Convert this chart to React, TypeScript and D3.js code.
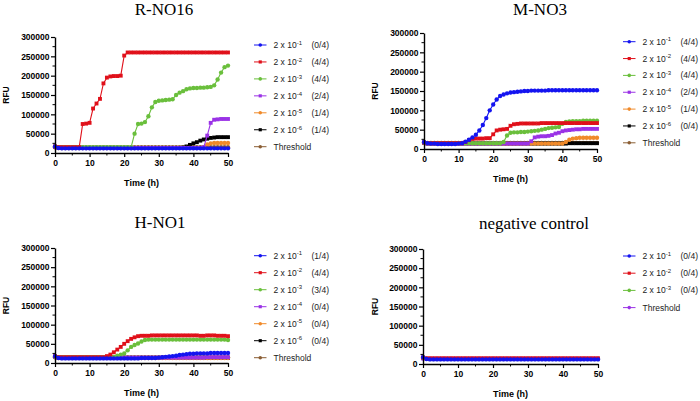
import React, { useRef, useEffect } from "react";
import * as d3 from "d3";

// reading times (h)
const hours = [
  0, 1, 2, 3, 4, 5, 6, 7, 8, 9,
  10, 11, 12, 13, 14, 15, 16, 17, 18, 19,
  20, 21, 22, 23, 24, 25, 26, 27, 28, 29,
  30, 31, 32, 33, 34, 35, 36, 37, 38, 39,
  40, 41, 42, 43, 44, 45, 46, 47, 48, 49,
  50,
];

const yTicks = [0, 50000, 100000, 150000, 200000, 250000, 300000];
const yMinorTicks = [25000, 75000, 125000, 175000, 225000, 275000];
const xTicks = [0, 10, 20, 30, 40, 50];
const xMinorTicks = [5, 15, 25, 35, 45];

const titles = ["R-NO16", "M-NO3", "H-NO1", "negative control"];
const dilutionExp = ["-1", "-2", "-3", "-4", "-5", "-6"];

// counts shown in each legend
const rCounts = ["(0/4)", "(4/4)", "(4/4)", "(2/4)", "(1/4)", "(1/4)"];
const mCounts = ["(4/4)", "(4/4)", "(4/4)", "(2/4)", "(1/4)", "(0/4)"];
const hCounts = ["(1/4)", "(4/4)", "(3/4)", "(0/4)", "(0/4)", "(0/4)"];
const nCounts = ["(0/4)", "(0/4)", "(0/4)"];

// RFU values in thousands, one per hour
const rBlue = [
  17, 13, 12, 12, 12, 12, 12, 12, 12, 12,
  12, 12, 12, 12, 12, 12, 12, 12, 12, 12,
  12, 12, 12, 12, 12, 12, 12, 12, 12, 12,
  12, 12, 12, 12, 12, 12, 12, 12, 12, 12,
  12, 12, 12, 12, 12, 12, 12, 12, 12, 12,
  12,
];
const rRed = [
  17, 15, 15, 15, 15, 15, 15, 15, 75, 76,
  78, 115, 128, 140, 180, 195, 198, 199, 199, 200,
  252, 260, 260, 260, 260, 260, 260, 260, 260, 260,
  260, 260, 260, 260, 260, 260, 260, 260, 260, 260,
  260, 260, 260, 260, 260, 260, 260, 260, 260, 260,
  260,
];
const rGreen = [
  17, 15, 15, 15, 15, 15, 15, 15, 15, 15,
  15, 15, 15, 15, 15, 15, 15, 15, 15, 15,
  15, 15, 15, 50, 75, 76, 80, 95, 118, 132,
  135, 136, 137, 138, 139, 150, 156, 160, 165, 167,
  168, 168, 169, 169, 170, 171, 175, 190, 208, 222,
  226,
];
const rPurple = [
  16, 13, 13, 13, 13, 13, 13, 13, 13, 13,
  13, 13, 13, 13, 13, 13, 13, 13, 13, 13,
  13, 13, 13, 13, 13, 13, 13, 13, 13, 13,
  13, 13, 13, 13, 13, 13, 13, 13, 13, 13,
  13, 13, 13, 15, 45, 78, 86, 87, 88, 88,
  88,
];
const rOrange = [
  16, 13, 13, 13, 13, 13, 13, 13, 13, 13,
  13, 13, 13, 13, 13, 13, 13, 13, 13, 13,
  13, 13, 13, 13, 13, 13, 13, 13, 13, 13,
  13, 13, 13, 13, 13, 13, 13, 13, 13, 13,
  13, 13, 13, 14, 22, 25, 26, 26, 26, 26,
  26,
];
const rBlack = [
  16, 13, 13, 13, 13, 13, 13, 13, 13, 13,
  13, 13, 13, 13, 13, 13, 13, 13, 13, 13,
  13, 13, 13, 13, 13, 13, 13, 13, 13, 13,
  13, 13, 13, 13, 13, 13, 13, 14, 17, 21,
  25, 28, 32, 35, 37, 39, 40, 41, 41, 41,
  41,
];
const rThreshold = 15;

const mBlue = [
  18, 15, 14, 14, 13, 13, 13, 13, 13, 13,
  14, 15, 19, 24, 30, 37, 48, 62, 80, 100,
  115, 128, 137, 141, 144, 146, 147, 148, 149, 150,
  150, 151, 151, 151, 151, 151, 152, 152, 152, 152,
  152, 152, 152, 152, 152, 152, 152, 152, 152, 152,
  152,
];
const mRed = [
  17, 15, 15, 15, 15, 15, 15, 15, 15, 15,
  15, 15, 18, 23, 26, 27, 27, 27, 28, 28,
  38, 48, 50, 51, 52, 60, 64, 65, 66, 66,
  66, 66, 66, 66, 67, 67, 67, 67, 67, 67,
  67, 67, 67, 67, 67, 67, 67, 67, 67, 67,
  67,
];
const mGreen = [
  17, 15, 15, 15, 15, 15, 15, 15, 15, 15,
  15, 15, 15, 15, 15, 15, 15, 15, 15, 15,
  15, 15, 15, 18, 35, 42, 43, 43, 44, 44,
  45, 46, 47, 48, 50, 52, 54, 55, 56, 57,
  65, 70, 71, 72, 72, 72, 73, 73, 73, 73,
  73,
];
const mPurple = [
  16, 14, 14, 14, 14, 14, 14, 14, 14, 14,
  14, 14, 14, 14, 14, 14, 14, 14, 14, 14,
  14, 14, 14, 14, 14, 14, 14, 14, 14, 14,
  14, 20, 30, 32, 33, 33, 34, 36, 40, 42,
  46, 48, 49, 50, 51, 51, 52, 52, 52, 52,
  52,
];
const mOrange = [
  16, 14, 14, 14, 14, 14, 14, 14, 14, 14,
  14, 14, 14, 14, 14, 14, 14, 14, 14, 14,
  14, 14, 14, 14, 14, 14, 14, 14, 14, 14,
  14, 14, 14, 14, 14, 14, 14, 14, 14, 14,
  14, 18, 24, 27, 28, 29, 29, 29, 29, 29,
  29,
];
const mBlack = [
  16, 14, 14, 14, 14, 14, 14, 14, 14, 14,
  14, 14, 14, 14, 14, 14, 14, 14, 14, 14,
  14, 14, 14, 14, 14, 14, 14, 14, 14, 14,
  14, 14, 14, 14, 14, 14, 14, 14, 14, 14,
  14, 14, 15, 15, 15, 15, 15, 15, 15, 15,
  15,
];
const mThreshold = 16;

const hBlue = [
  18, 13, 12, 12, 12, 12, 12, 12, 12, 12,
  12, 12, 12, 12, 12, 12, 12, 12, 12, 12,
  12, 12, 12, 12, 12, 13, 13, 13, 13, 13,
  14, 15, 16, 17, 18, 19, 21, 22, 23, 24,
  24, 25, 25, 25, 25, 26, 26, 26, 26, 26,
  26,
];
const hRed = [
  18, 15, 15, 15, 15, 15, 15, 15, 15, 15,
  15, 15, 15, 15, 15, 18, 22, 28, 35, 42,
  50, 57, 63, 67, 70, 71, 71, 71, 72, 72,
  72, 72, 72, 72, 72, 72, 72, 72, 72, 72,
  72, 72, 71, 71, 72, 72, 72, 71, 71, 71,
  70,
];
const hGreen = [
  17, 15, 15, 15, 15, 15, 15, 15, 15, 15,
  15, 15, 15, 15, 15, 15, 15, 16, 19, 22,
  25, 33, 42, 47, 51, 56, 60, 61, 61, 61,
  61, 61, 61, 61, 61, 61, 61, 61, 61, 61,
  61, 61, 61, 61, 61, 61, 61, 61, 61, 61,
  60,
];
const hPurple = [
  16, 14, 14, 14, 14, 14, 14, 14, 14, 14,
  14, 14, 14, 14, 14, 14, 14, 14, 14, 14,
  14, 14, 14, 14, 14, 14, 14, 14, 14, 14,
  14, 14, 14, 14, 14, 14, 14, 14, 14, 14,
  14, 14, 14, 14, 15, 15, 15, 15, 15, 15,
  15,
];
const hOrange = [
  16, 13, 13, 13, 13, 13, 13, 13, 13, 13,
  13, 13, 13, 13, 13, 13, 13, 13, 13, 13,
  13, 13, 13, 13, 13, 13, 13, 13, 13, 13,
  13, 13, 13, 13, 13, 13, 13, 13, 13, 13,
  13, 13, 13, 13, 13, 13, 13, 13, 13, 13,
  13,
];
const hBlack = [
  16, 13, 13, 13, 13, 13, 13, 13, 13, 13,
  13, 13, 13, 13, 13, 13, 13, 13, 13, 13,
  13, 13, 13, 13, 13, 13, 13, 13, 13, 13,
  13, 13, 13, 13, 13, 13, 13, 13, 13, 13,
  13, 13, 13, 13, 13, 13, 13, 13, 13, 13,
  13,
];
const hThreshold = 15;

const nBlue = [
  18, 13, 12, 12, 12, 12, 12, 12, 12, 12,
  12, 12, 12, 12, 12, 12, 12, 12, 12, 12,
  12, 12, 12, 12, 12, 12, 12, 12, 12, 12,
  12, 12, 12, 12, 12, 12, 12, 12, 12, 12,
  12, 12, 12, 12, 12, 12, 12, 12, 12, 12,
  12,
];
const nRed = [
  17, 15, 15, 15, 15, 15, 15, 15, 15, 15,
  15, 15, 15, 15, 15, 15, 15, 15, 15, 15,
  15, 15, 15, 15, 15, 15, 15, 15, 15, 15,
  15, 15, 15, 15, 15, 15, 15, 15, 15, 15,
  15, 15, 15, 15, 15, 15, 15, 15, 15, 15,
  15,
];
const nGreen = [
  17, 14, 13, 13, 13, 13, 13, 13, 13, 13,
  13, 13, 13, 13, 13, 13, 13, 13, 13, 13,
  13, 13, 13, 13, 13, 13, 13, 13, 13, 13,
  13, 13, 13, 13, 13, 13, 13, 13, 13, 13,
  13, 13, 13, 13, 13, 13, 13, 13, 13, 13,
  13,
];
const nThreshold = 14;

const colors = ["#1414f0", "#e0101a", "#6abf3c", "#9a32e6", "#f08a2a", "#000000"];
const shapes = [d3.symbolCircle, d3.symbolSquare, d3.symbolCircle, d3.symbolSquare, d3.symbolCircle, d3.symbolSquare];

const panelData = [
  { values: [rBlue, rRed, rGreen, rPurple, rOrange, rBlack], counts: rCounts, threshold: rThreshold, thColor: "#8b5e34" },
  { values: [mBlue, mRed, mGreen, mPurple, mOrange, mBlack], counts: mCounts, threshold: mThreshold, thColor: "#8b5e34" },
  { values: [hBlue, hRed, hGreen, hPurple, hOrange, hBlack], counts: hCounts, threshold: hThreshold, thColor: "#8b5e34" },
  { values: [nBlue, nRed, nGreen], counts: nCounts, threshold: nThreshold, thColor: "#9a32e6" },
];

// layout of each panel in pixels
const layout = [
  { x0: 55, x1: 228, y0: 153, y1: 37, titleX: 164, titleY: 15, rfuX: 6, legX: 254, legY: 45, step: 16.95 },
  { x0: 424, x1: 597, y0: 149, y1: 33, titleX: 540, titleY: 14.5, rfuX: 375, legX: 623, legY: 41.7, step: 16.85 },
  { x0: 55, x1: 228, y0: 363, y1: 248, titleX: 160, titleY: 228, rfuX: 6, legX: 254, legY: 255.7, step: 17 },
  { x0: 423, x1: 598, y0: 364, y1: 249, titleX: 534, titleY: 229, rfuX: 375, legX: 623, legY: 256, step: 17.2 },
];

const sans = "'Liberation Sans', Arial, Helvetica, sans-serif";
const serif = "'Liberation Serif', 'Times New Roman', serif";

function App() {
  const svgRef = useRef<SVGSVGElement>(null);

  useEffect(() => {
    const svg = d3.select(svgRef.current);
    svg.selectAll("*").remove();

    panelData.forEach((p, i) => {
      const L = layout[i];
      const x = d3.scaleLinear().domain([0, 50]).range([L.x0, L.x1]);
      const y = d3.scaleLinear().domain([0, 300000]).range([L.y0, L.y1]);
      const g = svg.append("g");

      g.append("text")
        .attr("x", L.titleX)
        .attr("y", L.titleY)
        .attr("text-anchor", "middle")
        .style("font-family", serif)
        .style("font-size", "17px")
        .text(titles[i]);

      const series = p.values.map((vals, k) => ({
        vals: vals.map((v) => v * 1000),
        color: colors[k],
        shape: shapes[k],
      }));
      const thVals = hours.map(() => p.threshold * 1000);
      const all = [{ vals: thVals, color: p.thColor, shape: d3.symbolCircle }, ...series.slice().reverse()];

      const line = d3
        .line<number>()
        .x((_, k) => x(hours[k]))
        .y((v) => y(v));

      all.forEach((s) => {
        g.append("path")
          .attr("d", line(s.vals))
          .attr("fill", "none")
          .attr("stroke", s.color)
          .attr("stroke-width", 1.1);
        g.selectAll(null)
          .data(s.vals)
          .enter()
          .append("path")
          .attr("transform", (v, k) => `translate(${x(hours[k])},${y(v)})`)
          .attr("d", d3.symbol(s.shape, 15)())
          .attr("fill", s.color);
      });

      // axes
      const yAxis = d3
        .axisLeft(y)
        .tickValues(yTicks)
        .tickSize(4)
        .tickSizeOuter(0)
        .tickPadding(1.5)
        .tickFormat((d) => String(d));
      const xAxis = d3
        .axisBottom(x)
        .tickValues(xTicks)
        .tickSize(4)
        .tickSizeOuter(0)
        .tickPadding(2.5)
        .tickFormat((d) => String(d));

      const ya = g.append("g").attr("transform", `translate(${L.x0},0)`).call(yAxis);
      const xa = g.append("g").attr("transform", `translate(0,${L.y0})`).call(xAxis);
      [ya, xa].forEach((a) => {
        a.select(".domain").attr("stroke", "#000").attr("stroke-width", 1.4);
        a.selectAll(".tick line").attr("stroke", "#000").attr("stroke-width", 1.2);
        a.selectAll(".tick text")
          .attr("fill", "#000")
          .style("font-family", sans)
          .style("font-size", "8.5px")
          .style("font-weight", "bold");
      });

      g.selectAll(null)
        .data(yMinorTicks)
        .enter()
        .append("line")
        .attr("x1", L.x0 - 2.5)
        .attr("x2", L.x0)
        .attr("y1", (d) => y(d))
        .attr("y2", (d) => y(d))
        .attr("stroke", "#000")
        .attr("stroke-width", 1);
      g.selectAll(null)
        .data(xMinorTicks)
        .enter()
        .append("line")
        .attr("x1", (d) => x(d))
        .attr("x2", (d) => x(d))
        .attr("y1", L.y0)
        .attr("y2", L.y0 + 2.5)
        .attr("stroke", "#000")
        .attr("stroke-width", 1);

      g.append("text")
        .attr("transform", `translate(${L.rfuX},${(L.y0 + L.y1) / 2}) rotate(-90)`)
        .attr("text-anchor", "middle")
        .attr("dy", "0.35em")
        .style("font-family", sans)
        .style("font-size", "8.5px")
        .style("font-weight", "bold")
        .text("RFU");

      g.append("text")
        .attr("x", (L.x0 + L.x1) / 2)
        .attr("y", L.y0 + 33)
        .attr("text-anchor", "middle")
        .style("font-family", sans)
        .style("font-size", "9px")
        .style("font-weight", "bold")
        .text("Time (h)");

      // legend
      const entries = [
        ...series.map((s, k) => ({ color: s.color, shape: s.shape, exp: dilutionExp[k], count: p.counts[k] })),
        { color: p.thColor, shape: d3.symbolCircle, exp: null as string | null, count: "" },
      ];
      entries.forEach((e, k) => {
        const ly = L.legY + k * L.step;
        g.append("line")
          .attr("x1", L.legX)
          .attr("x2", L.legX + 12.5)
          .attr("y1", ly)
          .attr("y2", ly)
          .attr("stroke", e.color)
          .attr("stroke-width", 1);
        g.append("path")
          .attr("transform", `translate(${L.legX + 6.25},${ly})`)
          .attr("d", d3.symbol(e.shape, 10)())
          .attr("fill", e.color);
        const t = g
          .append("text")
          .attr("x", L.legX + 19.5)
          .attr("y", ly)
          .attr("dy", "0.35em")
          .style("font-family", sans)
          .style("font-size", "8.5px")
          .attr("fill", "#222");
        if (e.exp === null) {
          t.text("Threshold");
        } else {
          t.append("tspan").text("2 x 10");
          t.append("tspan").attr("dy", -3.2).style("font-size", "6px").text(e.exp);
          t.append("tspan").attr("x", L.legX + 57.5).attr("dy", 3.2).text(e.count);
        }
      });
    });
  }, []);

  return (
    <div style={{ position: "absolute", left: 0, top: 0 }}>
      <svg ref={svgRef} width={700} height={401} style={{ display: "block", background: "#fff" }}></svg>
    </div>
  );
}

export default App;
